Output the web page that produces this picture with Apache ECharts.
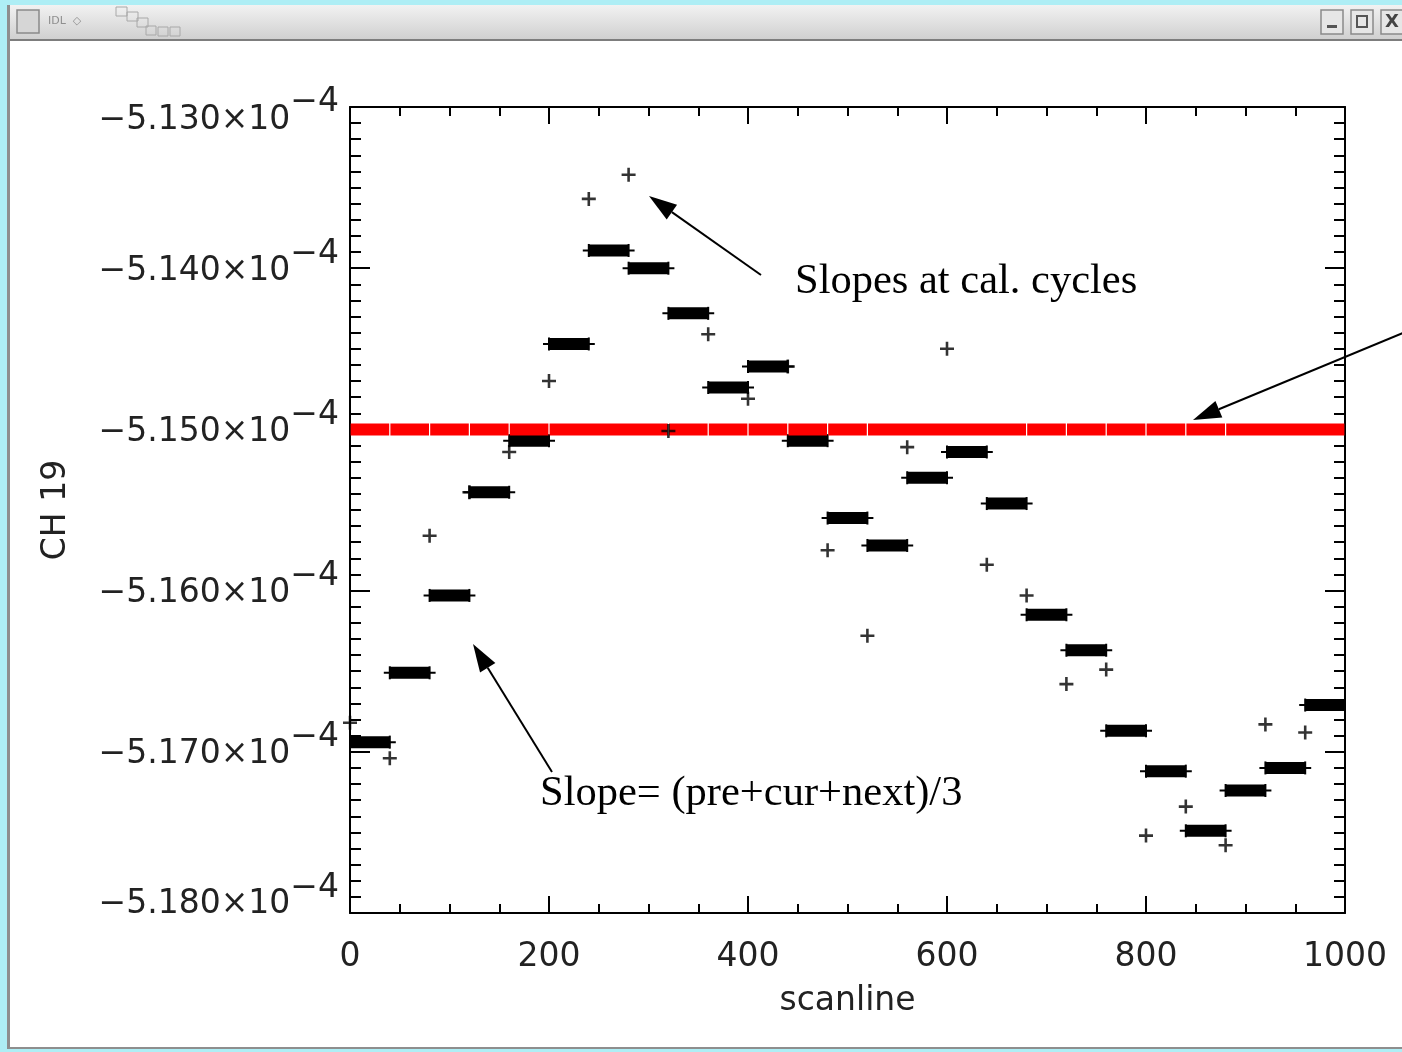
<!DOCTYPE html>
<html>
<head>
<meta charset="utf-8">
<script src="https://cdn.jsdelivr.net/npm/echarts@6/dist/echarts.min.js"></script>
<style>
  html, body { margin: 0; padding: 0; background: #fff; }
  #chart { width: 1402px; height: 1052px; }
</style>
</head>
<body>
<div id="chart"></div>
<script>
// slopes are in units of 1e-4 (the axis labels carry the x10^-4)
const CAL_SCANLINE = [0, 40, 80, 120, 160, 200, 240, 280, 320, 360, 400, 440, 480,
  520, 560, 600, 640, 680, 720, 760, 800, 840, 880, 920, 960]
const CAL_SLOPE = [-5.1682, -5.1704, -5.1566, -5.1539, -5.1514, -5.1470, -5.1357, -5.1342,
  -5.1501, -5.1441, -5.1481, -5.1461, -5.1575, -5.1628, -5.1511, -5.1450, -5.1584,
  -5.1603, -5.1658, -5.1649, -5.1752, -5.1734, -5.1758, -5.1683, -5.1688]

// averaged slope (pre+cur+next)/3, held over each scanline span
const AVG_START = [0, 40, 80, 120, 160, 200, 240, 280, 320, 360, 400, 440, 480,
  520, 560, 600, 640, 680, 720, 760, 800, 840, 880, 920, 960]
const AVG_END = [40, 80, 120, 160, 200, 240, 280, 320, 360, 400, 440, 480, 520,
  560, 600, 640, 680, 720, 760, 800, 840, 880, 920, 960, 1000]
const AVG_SLOPE = [-5.1694, -5.1651, -5.1603, -5.1539, -5.1507, -5.1447, -5.1389, -5.1400,
  -5.1428, -5.1474, -5.1461, -5.1507, -5.1555, -5.1572, -5.1530, -5.1514, -5.1546,
  -5.1615, -5.1637, -5.1687, -5.1712, -5.1749, -5.1724, -5.1710, -5.1671]

// red reference level, drawn as joined pieces
const REF_SLOPE = -5.1500
const REF_BREAKS = [0, 40, 80, 120, 160, 200, 320, 360, 400, 440, 480, 520, 680, 720,
  760, 800, 840, 880, 1000]

const X_TICKS = [0, 1000, 200]          // min, max, interval
const Y_TICKS = [-5.180, -5.130, 0.010] // min, max, interval

const FONT = '"DejaVu Sans", sans-serif'
const SERIF = '"Liberation Serif", "Times New Roman", serif'
const TXT = '#222'

const chart = echarts.init(document.getElementById('chart'))

const axisBase = (tickLen, minorLen, minorSplit) => ({
  axisLine: { show: true, onZero: false, lineStyle: { color: '#000', width: 2 } },
  axisTick: { show: true, inside: true, length: tickLen, lineStyle: { color: '#000', width: 2 } },
  minorTick: { show: true, splitNumber: minorSplit, length: minorLen, lineStyle: { color: '#000', width: 2 } },
  splitLine: { show: false },
  minorSplitLine: { show: false },
})

const yLabel = (v) => {
  let m = 'm', s = 's'
  if (Math.abs(v - Y_TICKS[1]) < 1e-6) { m = 'mt'; s = 'st' }
  if (Math.abs(v - Y_TICKS[0]) < 1e-6) { m = 'mb'; s = 'sb' }
  return `{${m}|\u2212${Math.abs(v).toFixed(3)}\u00d710}{${s}|\u22124}`
}
const tok = (padding) => ({ fontSize: 33, lineHeight: 33, fontFamily: FONT, color: TXT, padding })

const renderAvg = (params, api) => {
  const p0 = api.coord([api.value(0), api.value(2)])
  const p1 = api.coord([api.value(1), api.value(2)])
  return {
    type: 'group',
    children: [
      { type: 'line', shape: { x1: p0[0] - 6, y1: p0[1], x2: p1[0] + 6, y2: p1[1] }, style: { stroke: '#000', lineWidth: 2 } },
      { type: 'line', shape: { x1: p0[0], y1: p0[1] - 6.5, x2: p0[0], y2: p0[1] + 6.5 }, style: { stroke: '#000', lineWidth: 2 } },
      { type: 'line', shape: { x1: p1[0], y1: p1[1] - 6.5, x2: p1[0], y2: p1[1] + 6.5 }, style: { stroke: '#000', lineWidth: 2 } },
      { type: 'rect', shape: { x: p0[0], y: p0[1] - 6, width: p1[0] - p0[0], height: 12 }, style: { fill: '#000' } },
    ],
  }
}

const renderRef = (params, api) => {
  const p0 = api.coord([api.value(0), api.value(2)])
  const p1 = api.coord([api.value(1), api.value(2)])
  return {
    type: 'rect',
    shape: { x: p0[0] + 0.6, y: p0[1] - 6, width: p1[0] - p0[0] - 1.2, height: 12 },
    style: { fill: '#ff0000' },
  }
}

const arrow = (x1, y1, x2, y2) => {
  const len = 28, half = 9
  const dx = x2 - x1, dy = y2 - y1
  const d = Math.sqrt(dx * dx + dy * dy)
  const ux = dx / d, uy = dy / d
  const bx = x2 - ux * len, by = y2 - uy * len
  return [
    { type: 'line', shape: { x1, y1, x2: bx, y2: by }, style: { stroke: '#000', lineWidth: 2 } },
    { type: 'polygon', shape: { points: [[x2, y2], [bx - uy * half, by + ux * half], [bx + uy * half, by - ux * half]] }, style: { fill: '#000' } },
  ]
}

const frame = [
  // window border and title bar
  { type: 'rect', shape: { x: 0, y: 0, width: 7, height: 1052 }, style: { fill: '#aeeef5' } },
  { type: 'rect', shape: { x: 0, y: 0, width: 1402, height: 5 }, style: { fill: '#aeeef5' } },
  { type: 'rect', shape: { x: 0, y: 1049, width: 1402, height: 3 }, style: { fill: '#aeeef5' } },
  { type: 'rect', shape: { x: 7, y: 5, width: 3, height: 1044 }, style: { fill: '#8e8e8e' } },
  { type: 'rect', shape: { x: 7, y: 1047, width: 1395, height: 2 }, style: { fill: '#8e8e8e' } },
  {
    type: 'rect', shape: { x: 10, y: 5, width: 1392, height: 35 },
    style: { fill: { type: 'linear', x: 0, y: 0, x2: 0, y2: 1, colorStops: [{ offset: 0, color: '#f2f2f2' }, { offset: 1, color: '#cfcfcf' }] } },
  },
  { type: 'rect', shape: { x: 10, y: 39, width: 1392, height: 2 }, style: { fill: '#7d7d7d' } },
  { type: 'rect', shape: { x: 17, y: 10, width: 22, height: 23 }, style: { fill: '#d6d6d6', stroke: '#8a8a8a', lineWidth: 1.5 } },
  { type: 'text', x: 48, y: 21, style: { text: 'IDL  \u25c7', font: '11px ' + FONT, fill: '#8f8f8f', verticalAlign: 'middle' } },
  { type: 'rect', shape: { x: 116, y: 7, width: 11, height: 9 }, style: { fill: 'none', stroke: '#a8a8a8', lineWidth: 1 } },
  { type: 'rect', shape: { x: 127, y: 12, width: 11, height: 9 }, style: { fill: 'none', stroke: '#a8a8a8', lineWidth: 1 } },
  { type: 'rect', shape: { x: 137, y: 18, width: 11, height: 9 }, style: { fill: 'none', stroke: '#a8a8a8', lineWidth: 1 } },
  { type: 'rect', shape: { x: 146, y: 26, width: 10, height: 9 }, style: { fill: 'none', stroke: '#a8a8a8', lineWidth: 1 } },
  { type: 'rect', shape: { x: 158, y: 27, width: 10, height: 9 }, style: { fill: 'none', stroke: '#a8a8a8', lineWidth: 1 } },
  { type: 'rect', shape: { x: 170, y: 27, width: 10, height: 9 }, style: { fill: 'none', stroke: '#a8a8a8', lineWidth: 1 } },
  { type: 'rect', shape: { x: 1321, y: 10, width: 22, height: 24 }, style: { fill: '#e6e6e6', stroke: '#8a8a8a', lineWidth: 1.5 } },
  { type: 'rect', shape: { x: 1327, y: 25, width: 10, height: 3 }, style: { fill: '#555' } },
  { type: 'rect', shape: { x: 1351, y: 10, width: 22, height: 24 }, style: { fill: '#e6e6e6', stroke: '#8a8a8a', lineWidth: 1.5 } },
  { type: 'rect', shape: { x: 1357, y: 16, width: 10, height: 11 }, style: { fill: 'none', stroke: '#555', lineWidth: 2 } },
  { type: 'rect', shape: { x: 1381, y: 10, width: 22, height: 24 }, style: { fill: '#e6e6e6', stroke: '#8a8a8a', lineWidth: 1.5 } },
  { type: 'text', x: 1392, y: 22, style: { text: 'X', font: 'bold 18px ' + FONT, fill: '#444', align: 'center', verticalAlign: 'middle' } },
  // annotations
  { type: 'text', x: 795, y: 282, style: { text: 'Slopes at cal. cycles', font: '42.5px ' + SERIF, fill: '#000', verticalAlign: 'middle' } },
  { type: 'text', x: 540, y: 794, style: { text: 'Slope= (pre+cur+next)/3', font: '42.5px ' + SERIF, fill: '#000', verticalAlign: 'middle' } },
  ...arrow(761, 275, 649, 196),
  ...arrow(552, 772, 473, 644),
  ...arrow(1410, 330, 1193, 420),
]

chart.setOption({
  animation: false,
  backgroundColor: '#fff',
  grid: { left: 350, top: 107, width: 995, height: 806 },
  xAxis: [
    {
      type: 'value', min: X_TICKS[0], max: X_TICKS[1], interval: X_TICKS[2], position: 'bottom',
      ...axisBase(17, 9, 4),
      axisLabel: { margin: 28, fontSize: 33, fontFamily: FONT, color: TXT, formatter: (v) => String(v) },
      name: 'scanline', nameLocation: 'middle', nameGap: 72,
      nameTextStyle: { fontSize: 33, fontFamily: FONT, color: TXT },
    },
    {
      type: 'value', min: X_TICKS[0], max: X_TICKS[1], interval: X_TICKS[2], position: 'top',
      ...axisBase(17, 9, 4),
      axisLabel: { show: false },
    },
  ],
  yAxis: [
    {
      type: 'value', min: Y_TICKS[0], max: Y_TICKS[1], interval: Y_TICKS[2], position: 'left',
      ...axisBase(20, 11, 10),
      axisLabel: {
        margin: 11,
        formatter: yLabel,
        rich: {
          m: tok([6, 0, 0, 0]), s: tok([0, 0, 28, 0]),
          mt: tok([26, 0, 0, 0]), st: tok([0, 0, 10, 0]),
          mb: tok([0, 0, 18, 0]), sb: tok([0, 0, 50, 0]),
        },
      },
      name: 'CH 19', nameLocation: 'middle', nameGap: 277, nameRotate: 90,
      nameTextStyle: { fontSize: 33, fontFamily: FONT, color: TXT },
    },
    {
      type: 'value', min: Y_TICKS[0], max: Y_TICKS[1], interval: Y_TICKS[2], position: 'right',
      ...axisBase(20, 11, 10),
      axisLabel: { show: false },
    },
  ],
  graphic: frame,
  series: [
    {
      type: 'custom', name: 'averaged', z: 2, clip: true,
      renderItem: renderAvg,
      data: AVG_START.map((s, i) => [s, AVG_END[i], AVG_SLOPE[i]]),
    },
    {
      type: 'custom', name: 'reference', z: 3, clip: true,
      renderItem: renderRef,
      data: REF_BREAKS.slice(0, -1).map((s, i) => [s, REF_BREAKS[i + 1], REF_SLOPE]),
    },
    {
      type: 'scatter', name: 'cal cycles', z: 4,
      symbol: 'path://M5.3,0H7.7V5.3H13V7.7H7.7V13H5.3V7.7H0V5.3H5.3Z',
      symbolSize: 14,
      itemStyle: { color: '#000' },
      data: CAL_SCANLINE.map((x, i) => [x, CAL_SLOPE[i]]),
    },
  ],
})
</script>
</body>
</html>
